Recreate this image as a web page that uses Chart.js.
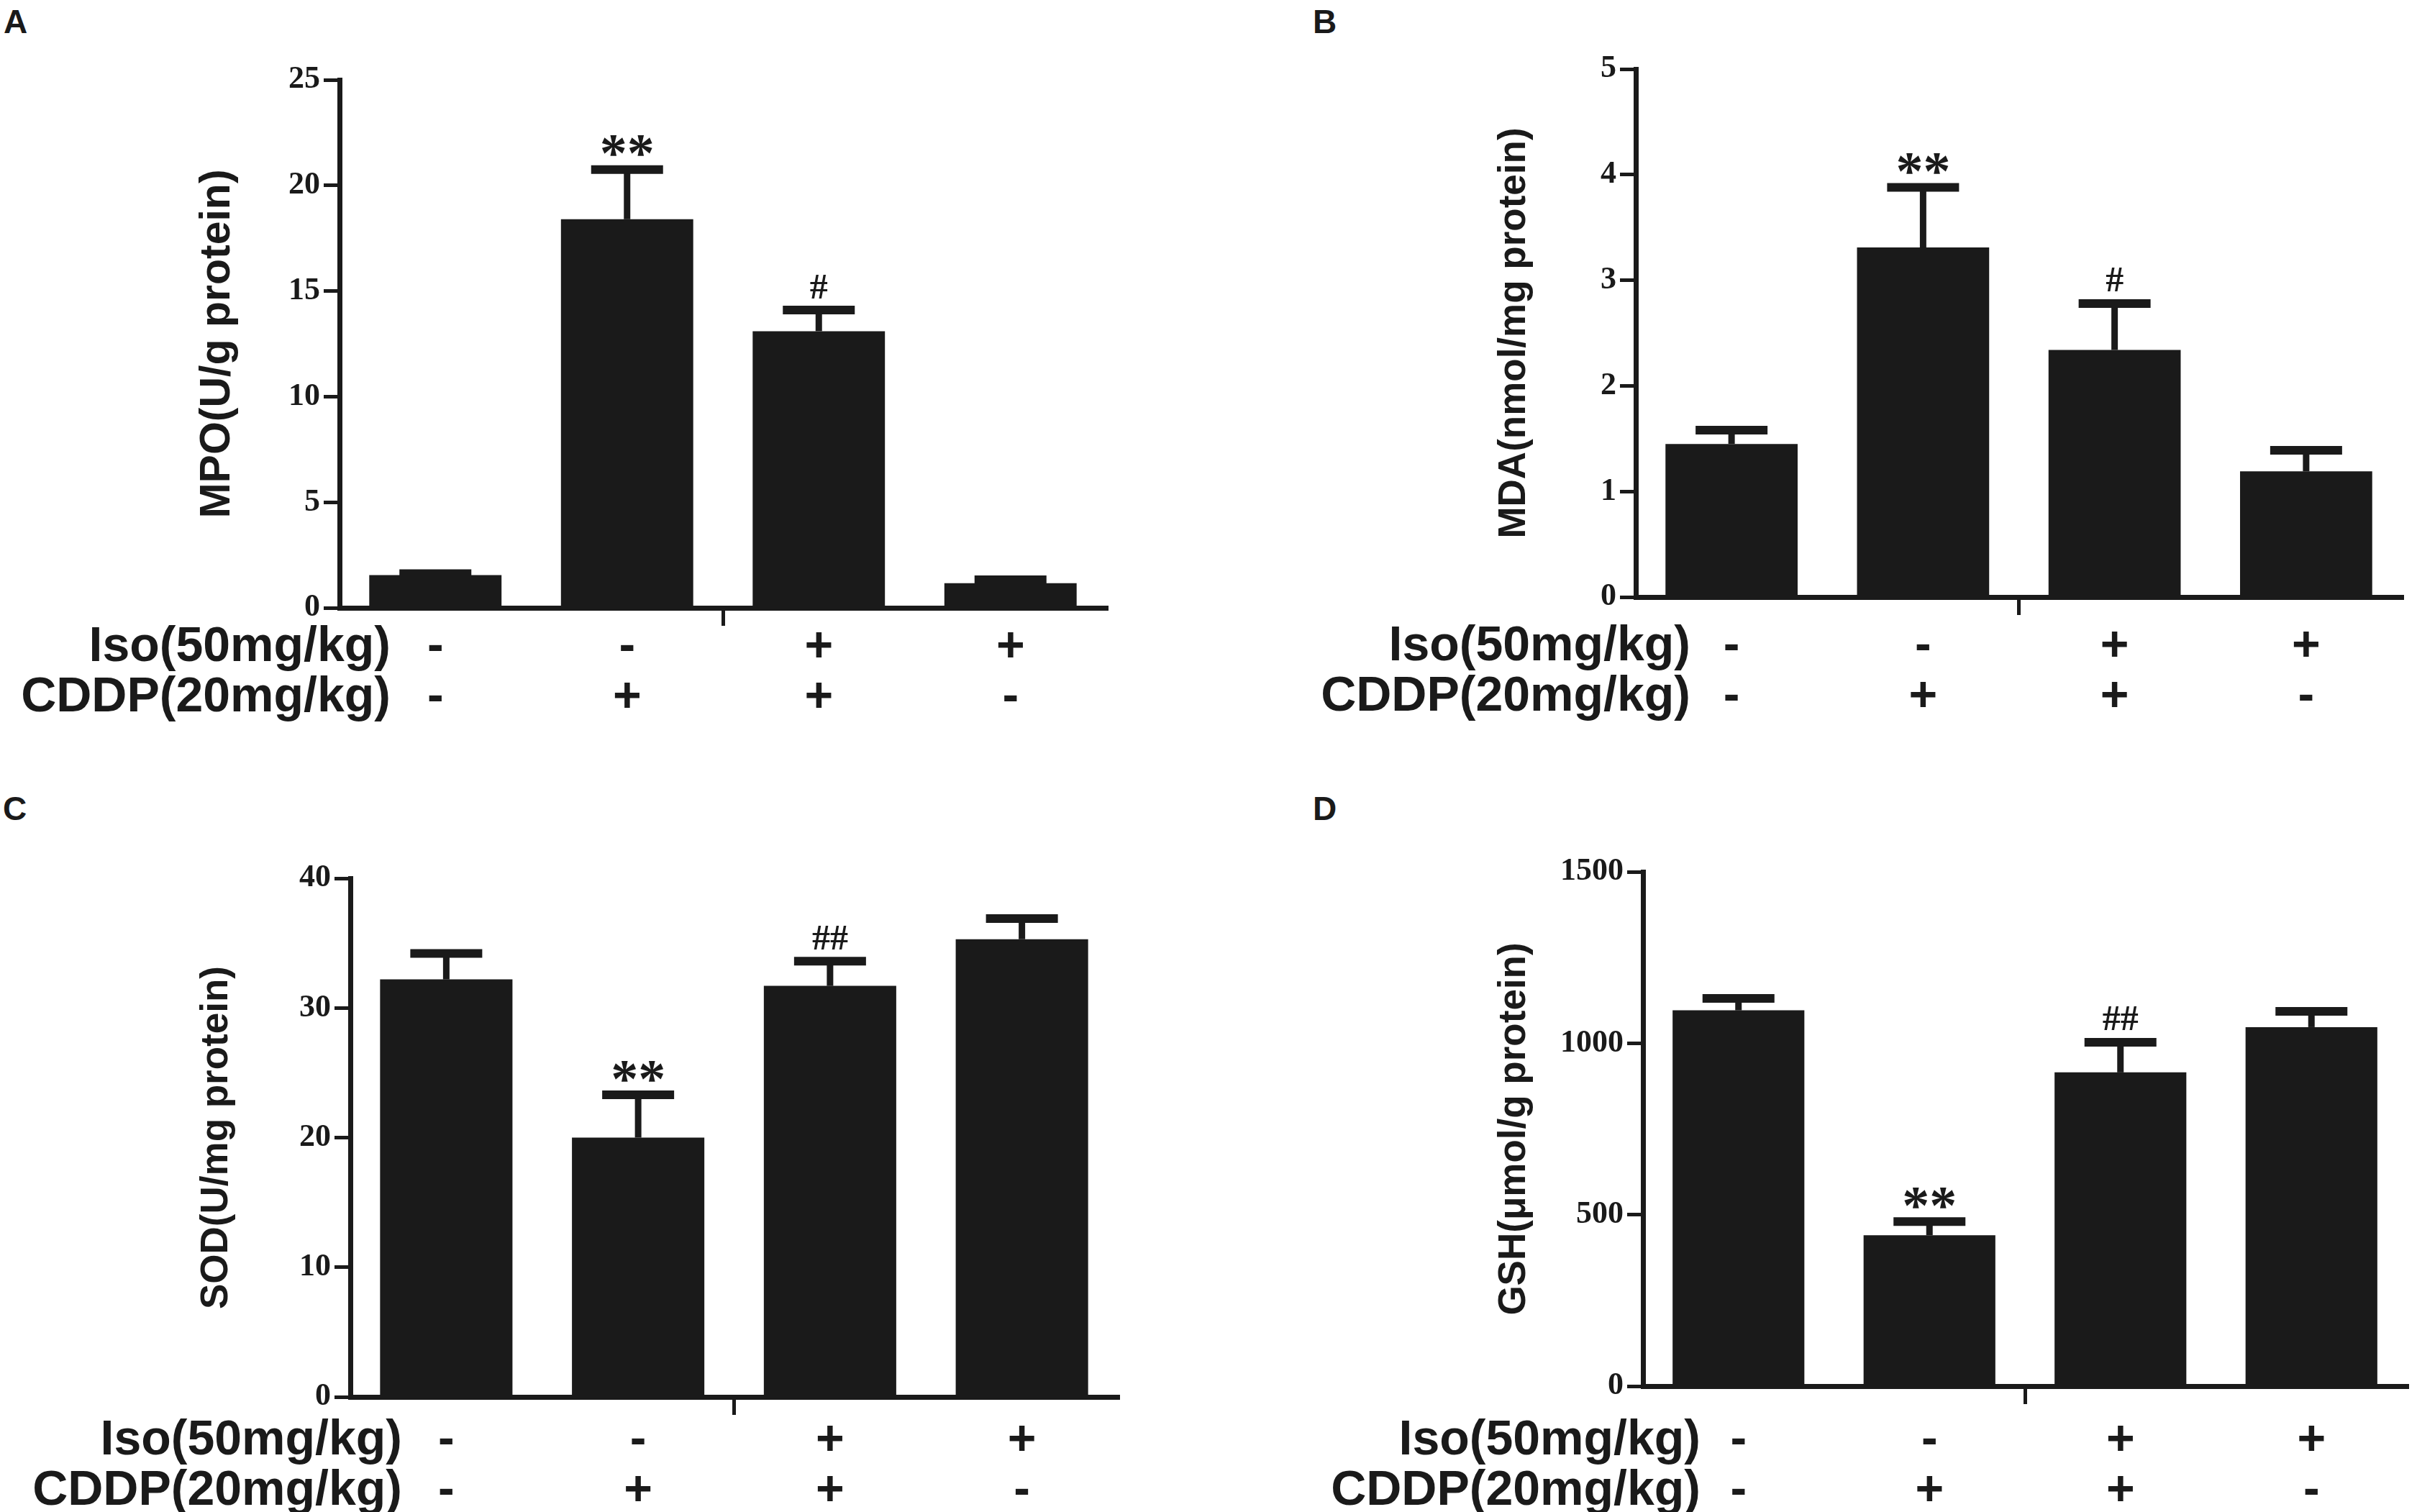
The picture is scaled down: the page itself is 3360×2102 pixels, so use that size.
<!DOCTYPE html>
<html>
<head>
<meta charset="utf-8">
<script src="https://cdn.jsdelivr.net/npm/chart.js@4.4.1/dist/chart.umd.min.js"></script>
<style>
html,body{margin:0;padding:0;background:#ffffff;width:3360px;height:2102px;overflow:hidden;}
canvas{position:absolute;}
.lbl{position:absolute;font:bold 46px "Liberation Sans",Arial,sans-serif;line-height:46px;color:#1a1a1a;}
</style>
</head>
<body>
<div class="lbl" style="left:5px;top:7px">A</div>
<div class="lbl" style="left:1825px;top:7px">B</div>
<div class="lbl" style="left:4px;top:1101px">C</div>
<div class="lbl" style="left:1825px;top:1101px">D</div>
<canvas id="cA" width="1680" height="1051" style="left:0px;top:0px"></canvas>
<canvas id="cB" width="1680" height="1051" style="left:1680px;top:0px"></canvas>
<canvas id="cC" width="1680" height="1051" style="left:0px;top:1051px"></canvas>
<canvas id="cD" width="1680" height="1051" style="left:1680px;top:1051px"></canvas>
<script>
// ---------- data ----------
const groups = ['Control', 'CDDP', 'Iso+CDDP', 'Iso'];
const isoRow = ['-', '-', '+', '+'];
const cddpRow = ['-', '+', '+', '-'];
const rowHeaders = ['Iso(50mg/kg)', 'CDDP(20mg/kg)'];

const mpoMean = [1.55, 18.4, 13.1, 1.17];
const mpoErrTop = [1.62, 20.75, 14.1, 1.33];
const mpoMarks = ['', '**', '#', ''];
const mpoTicks = [0, 5, 10, 15, 20, 25];

const mdaMean = [1.45, 3.31, 2.34, 1.19];
const mdaErrTop = [1.58, 3.88, 2.78, 1.39];
const mdaMarks = ['', '**', '#', ''];
const mdaTicks = [0, 1, 2, 3, 4, 5];

const sodMean = [32.2, 20.0, 31.7, 35.3];
const sodErrTop = [34.2, 23.3, 33.6, 36.9];
const sodMarks = ['', '**', '##', ''];
const sodTicks = [0, 10, 20, 30, 40];

const gshMean = [1096, 440, 915, 1047];
const gshErrTop = [1131, 480, 1003, 1093];
const gshMarks = ['', '**', '##', ''];
const gshTicks = [0, 500, 1000, 1500];

// ---------- styling / layout ----------
const INK = '#1a1a1a';
const SANS = '"Liberation Sans", Arial, sans-serif';
const SERIF = '"Liberation Serif", "Times New Roman", serif';
const NONE = 'rgba(0,0,0,0)';
const ROW_FONT = 68;
const ROW_LINE = 70;

function extrasPlugin(errTop, marks, geo) {
  return {
    id: 'extras',
    afterDatasetsDraw(chart) {
      const ctx = chart.ctx;
      const ys = chart.scales.y;
      const meta = chart.getDatasetMeta(0);
      ctx.save();
      ctx.strokeStyle = INK;
      ctx.fillStyle = INK;
      ctx.lineCap = 'butt';
      meta.data.forEach((bar, i) => {
        const yt = ys.getPixelForValue(errTop[i]);
        ctx.lineWidth = 9;
        ctx.beginPath(); ctx.moveTo(bar.x, bar.y); ctx.lineTo(bar.x, yt); ctx.stroke();
        ctx.lineWidth = 12;
        ctx.beginPath(); ctx.moveTo(bar.x - 50, yt); ctx.lineTo(bar.x + 50, yt); ctx.stroke();
        const m = marks[i];
        if (m) {
          ctx.font = m.indexOf('*') >= 0 ? 'bold 76px ' + SERIF : 'bold 50px ' + SERIF;
          ctx.textAlign = 'center';
          ctx.textBaseline = 'alphabetic';
          const mt = ctx.measureText(m);
          const cy = yt - 33;
          ctx.fillText(m, bar.x, cy + (mt.actualBoundingBoxAscent - mt.actualBoundingBoxDescent) / 2);
        }
      });
      const xs = chart.scales.x;
      const top = xs.top + xs.options.grid.tickLength + xs.options.ticks.padding;
      ctx.font = 'bold ' + ROW_FONT + 'px ' + SANS;
      ctx.textAlign = 'right';
      ctx.textBaseline = 'middle';
      rowHeaders.forEach((t, i) => ctx.fillText(t, geo.rowRight, top + ROW_LINE * (i + 0.5)));
      ctx.restore();
    }
  };
}

function makePanel(id, title, mean, errTop, marks, tickVals, geo) {
  const labels = groups.map((g, i) => [isoRow[i], cddpRow[i]]);
  new Chart(document.getElementById(id), {
    type: 'bar',
    data: {
      labels: labels,
      datasets: [{
        label: title,
        data: mean,
        backgroundColor: INK,
        borderWidth: 0,
        barPercentage: 0.69,
        categoryPercentage: 1.0
      }]
    },
    options: {
      responsive: false,
      animation: false,
      events: [],
      layout: { padding: { left: 0, top: geo.top, right: geo.right, bottom: 0 } },
      plugins: { legend: { display: false }, tooltip: { enabled: false } },
      scales: {
        x: {
          afterFit: s => { s.height = geo.h - geo.bottom; },
          border: { display: true, color: INK, width: 7 },
          grid: {
            display: true, drawOnChartArea: false, drawTicks: true,
            tickLength: 25, tickWidth: 5, lineWidth: 5, color: NONE,
            tickColor: c => (c.index === 2 ? INK : NONE)
          },
          ticks: {
            color: INK, autoSkip: false, maxRotation: 0, minRotation: 0,
            padding: geo.tickPad,
            font: { family: SANS, weight: 'bold', size: ROW_FONT, lineHeight: ROW_LINE + 'px' }
          }
        },
        y: {
          min: tickVals[0],
          max: tickVals[tickVals.length - 1],
          afterBuildTicks: s => { s.ticks = tickVals.map(v => ({ value: v })); },
          afterFit: s => { s.width = geo.left; },
          border: { display: true, color: INK, width: 7 },
          grid: {
            display: true, drawOnChartArea: false, drawTicks: true,
            tickLength: 22, tickWidth: 5, lineWidth: 5, color: INK, tickColor: INK
          },
          ticks: {
            color: INK, padding: 5,
            callback: v => String(v),
            font: { family: SERIF, weight: 'bold', size: 44 }
          },
          title: {
            display: true, text: title, color: INK,
            font: { family: SANS, weight: 'bold', size: geo.titleSize },
            padding: { top: geo.titlePad, bottom: 0 }
          }
        }
      }
    },
    plugins: [extrasPlugin(errTop, marks, geo)]
  });
}

makePanel('cA', 'MPO(U/g protein)', mpoMean, mpoErrTop, mpoMarks, mpoTicks,
  { left: 472, right: 142, top: 111, bottom: 845, h: 1051, titleSize: 59, titlePad: 267, tickPad: -5, rowRight: 543 });
makePanel('cB', 'MDA(nmol/mg protein)', mdaMean, mdaErrTop, mdaMarks, mdaTicks,
  { left: 594, right: 21, top: 96, bottom: 830, h: 1051, titleSize: 53, titlePad: 394, tickPad: 9, rowRight: 670 });
makePanel('cC', 'SOD(U/mg protein)', sodMean, sodErrTop, sodMarks, sodTicks,
  { left: 487, right: 126, top: 170, bottom: 891, h: 1051, titleSize: 53, titlePad: 270, tickPad: 1, rowRight: 559 });
makePanel('cD', 'GSH(\u03bcmol/g protein)', gshMean, gshErrTop, gshMarks, gshTicks,
  { left: 604, right: 14, top: 161, bottom: 876, h: 1051, titleSize: 53, titlePad: 394, tickPad: 16, rowRight: 684 });
</script>
</body>
</html>
